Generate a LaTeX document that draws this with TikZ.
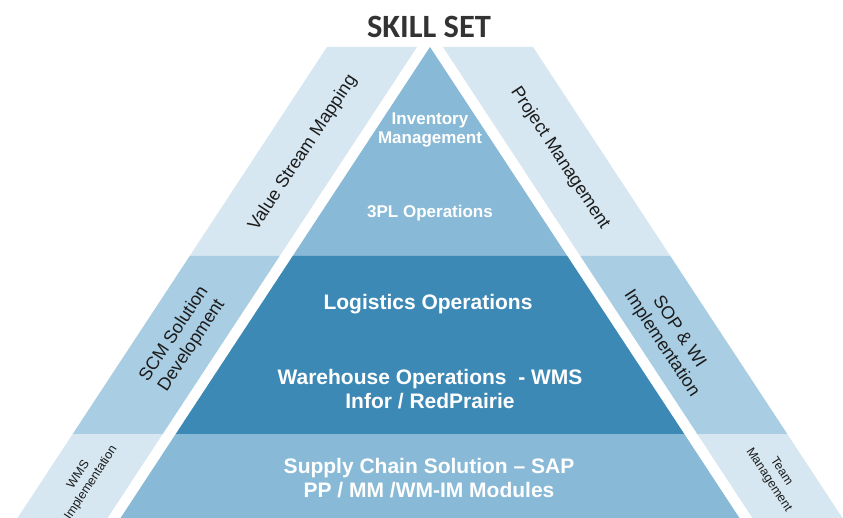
\documentclass[tikz,border=0pt]{standalone}
\usepackage{fontspec}
\setmainfont{Liberation Sans}
\newfontfamily\titlefont{Carlito}
\definecolor{bandlight}{HTML}{D6E7F1}
\definecolor{bandmid}{HTML}{A9CDE2}
\definecolor{corelight}{HTML}{88B9D6}
\definecolor{coredark}{HTML}{3D89B6}
\definecolor{titlegray}{HTML}{333333}
\definecolor{sidegray}{HTML}{1C1C1C}
\begin{document}
\begin{tikzpicture}[x=1pt,y=-1pt,
  coretext/.style={text=white, align=center, inner sep=0pt, font=\bfseries\fontsize{21}{24}\selectfont},
  coresmall/.style={text=white, align=center, inner sep=0pt, font=\bfseries\fontsize{17}{19}\selectfont},
  sidetext/.style={text=sidegray, align=center, inner sep=0pt, font=\fontsize{18}{21}\selectfont},
  sidesmall/.style={text=sidegray, align=center, inner sep=0pt, font=\fontsize{12.5}{15}\selectfont}]
\useasboundingbox (0,0) rectangle (843,518);
\fill[white] (0,0) rectangle (843,518);
\begin{scope}
\clip (0,0) rectangle (843,518);
% left bands
\fill[bandlight] (327,47) -- (417,47) -- (279.7,256) -- (189.7,256) -- cycle;
\fill[bandmid] (189.7,256) -- (279.7,256) -- (162.7,434) -- (72.7,434) -- cycle;
\fill[bandlight] (72.7,434) -- (162.7,434) -- (99.7,530) -- (9.7,530) -- cycle;
% right bands
\fill[bandlight] (443,47) -- (533,47) -- (670.3,256) -- (580.3,256) -- cycle;
\fill[bandmid] (580.3,256) -- (670.3,256) -- (787.3,434) -- (697.3,434) -- cycle;
\fill[bandlight] (697.3,434) -- (787.3,434) -- (850.3,530) -- (760.3,530) -- cycle;
% core
\fill[corelight] (430,47) -- (567.3,256) -- (292.7,256) -- cycle;
\fill[coredark] (292.7,256) -- (567.3,256) -- (684.3,434) -- (175.7,434) -- cycle;
\fill[corelight] (175.7,434) -- (684.3,434) -- (747.3,530) -- (112.7,530) -- cycle;
% texts
\node[coresmall] (inv) at (430,130) {Inventory\\Management};
\node[coresmall] (tpl) at (430,213) {3PL Operations};
\node[coretext] (log) at (428,304) {Logistics Operations};
\node[coretext] (wh) at (430,389) {Warehouse Operations \ - WMS\\Infor / RedPrairie};
\node[coretext] (sc) at (429,478) {Supply Chain Solution -- SAP\\PP / MM /WM-IM Modules};
\node[sidetext, rotate=56.7] (vsm) at (303,153) {Value Stream Mapping};
\node[sidetext, rotate=-56.7] (pm) at (560,158) {Project Management};
\node[sidetext, rotate=56.7] (scm) at (183,340) {SCM Solution\\Development};
\node[sidetext, rotate=-56.7] (sop) at (670,338) {SOP \& WI\\Implementation};
\node[sidesmall, rotate=56.7] (wms) at (85,479) {WMS\\Implementation};
\node[sidesmall, rotate=-56.7] (team) at (775,476) {Team\\Management};
\end{scope}
\node[text=titlegray, inner sep=0pt, font=\titlefont\bfseries\fontsize{32.5}{38}\selectfont] (title) at (429,27) {SKILL SET};
\end{tikzpicture}
\end{document}
